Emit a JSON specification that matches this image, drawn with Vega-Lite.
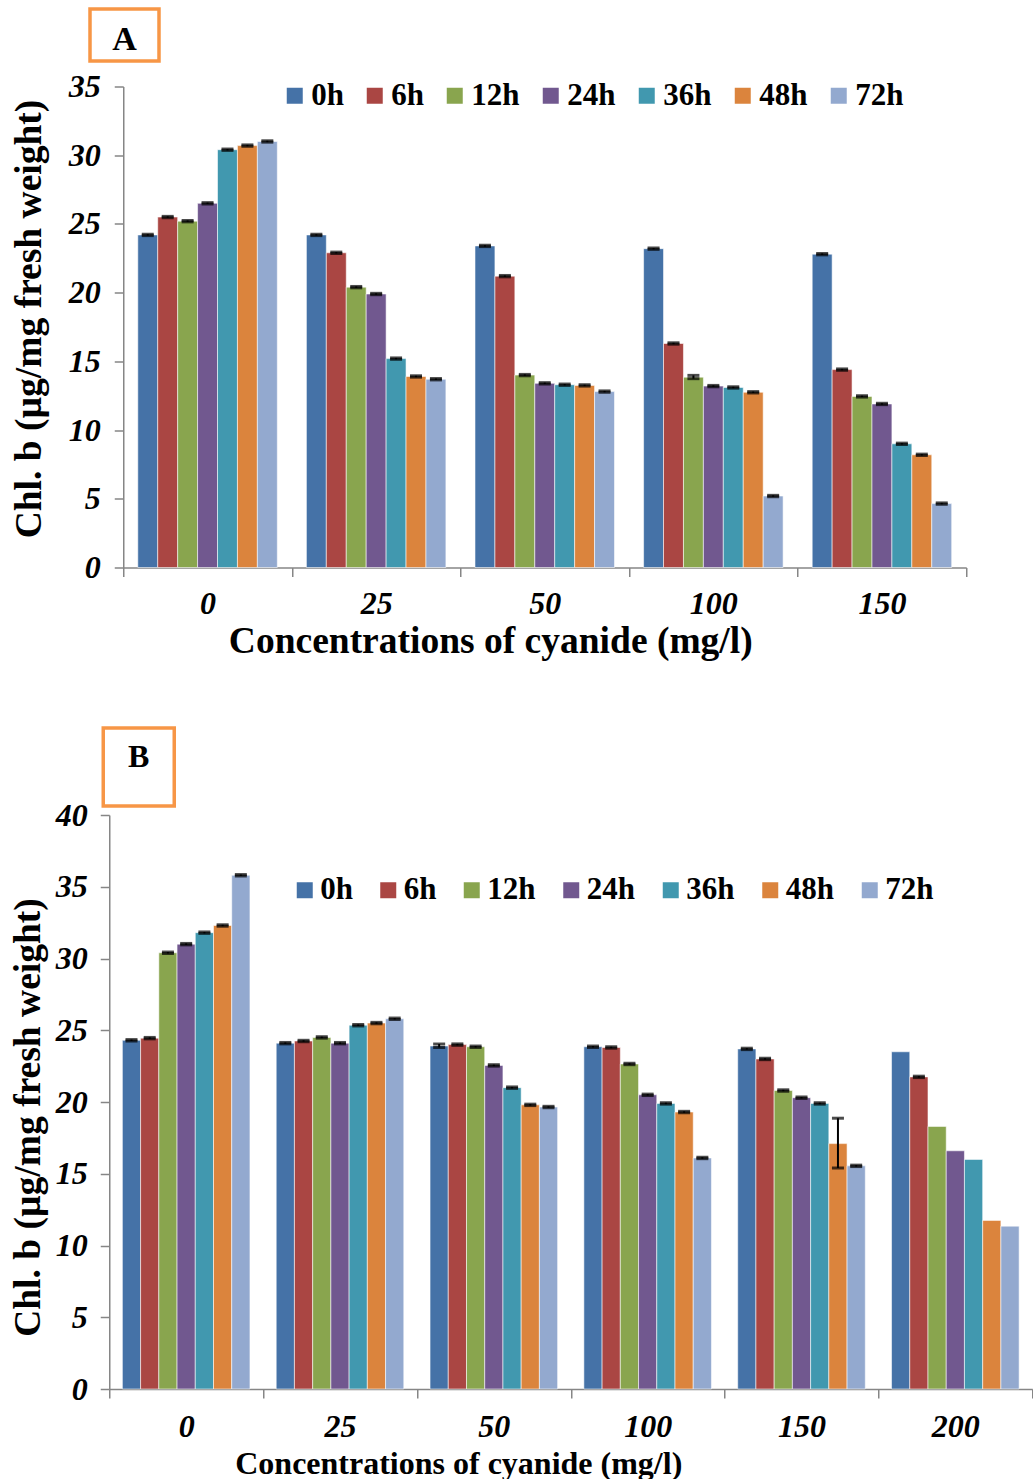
{
  "$schema": "https://vega.github.io/schema/vega-lite/v6.json",
  "background": "white",
  "padding": {"left": 9, "top": 7, "right": 0, "bottom": 0},
  "datasets": {
    "a": [
      {"conc": "0", "time": "0h", "v": 24.2, "lo": 24.15, "hi": 24.25},
      {"conc": "0", "time": "6h", "v": 25.5, "lo": 25.45, "hi": 25.55},
      {"conc": "0", "time": "12h", "v": 25.2, "lo": 25.15, "hi": 25.25},
      {"conc": "0", "time": "24h", "v": 26.5, "lo": 26.45, "hi": 26.55},
      {"conc": "0", "time": "36h", "v": 30.4, "lo": 30.35, "hi": 30.45},
      {"conc": "0", "time": "48h", "v": 30.7, "lo": 30.65, "hi": 30.75},
      {"conc": "0", "time": "72h", "v": 31.0, "lo": 30.95, "hi": 31.05},
      {"conc": "25", "time": "0h", "v": 24.2, "lo": 24.15, "hi": 24.25},
      {"conc": "25", "time": "6h", "v": 22.9, "lo": 22.85, "hi": 22.95},
      {"conc": "25", "time": "12h", "v": 20.4, "lo": 20.35, "hi": 20.45},
      {"conc": "25", "time": "24h", "v": 19.9, "lo": 19.85, "hi": 19.95},
      {"conc": "25", "time": "36h", "v": 15.2, "lo": 15.15, "hi": 15.25},
      {"conc": "25", "time": "48h", "v": 13.9, "lo": 13.85, "hi": 13.95},
      {"conc": "25", "time": "72h", "v": 13.7, "lo": 13.65, "hi": 13.75},
      {"conc": "50", "time": "0h", "v": 23.4, "lo": 23.35, "hi": 23.45},
      {"conc": "50", "time": "6h", "v": 21.2, "lo": 21.15, "hi": 21.25},
      {"conc": "50", "time": "12h", "v": 14.0, "lo": 13.95, "hi": 14.05},
      {"conc": "50", "time": "24h", "v": 13.4, "lo": 13.35, "hi": 13.45},
      {"conc": "50", "time": "36h", "v": 13.3, "lo": 13.25, "hi": 13.35},
      {"conc": "50", "time": "48h", "v": 13.25, "lo": 13.2, "hi": 13.3},
      {"conc": "50", "time": "72h", "v": 12.8, "lo": 12.75, "hi": 12.85},
      {"conc": "100", "time": "0h", "v": 23.2, "lo": 23.15, "hi": 23.25},
      {"conc": "100", "time": "6h", "v": 16.3, "lo": 16.25, "hi": 16.35},
      {"conc": "100", "time": "12h", "v": 13.85, "lo": 13.74, "hi": 13.98},
      {"conc": "100", "time": "24h", "v": 13.2, "lo": 13.15, "hi": 13.25},
      {"conc": "100", "time": "36h", "v": 13.1, "lo": 13.05, "hi": 13.15},
      {"conc": "100", "time": "48h", "v": 12.75, "lo": 12.7, "hi": 12.8},
      {"conc": "100", "time": "72h", "v": 5.2, "lo": 5.15, "hi": 5.25},
      {"conc": "150", "time": "0h", "v": 22.8, "lo": 22.75, "hi": 22.85},
      {"conc": "150", "time": "6h", "v": 14.4, "lo": 14.35, "hi": 14.45},
      {"conc": "150", "time": "12h", "v": 12.45, "lo": 12.4, "hi": 12.5},
      {"conc": "150", "time": "24h", "v": 11.9, "lo": 11.85, "hi": 11.95},
      {"conc": "150", "time": "36h", "v": 9.0, "lo": 8.95, "hi": 9.05},
      {"conc": "150", "time": "48h", "v": 8.2, "lo": 8.15, "hi": 8.25},
      {"conc": "150", "time": "72h", "v": 4.65, "lo": 4.6, "hi": 4.7}
    ],
    "b": [
      {"conc": "0", "time": "0h", "v": 24.3, "lo": 24.25, "hi": 24.35},
      {"conc": "0", "time": "6h", "v": 24.45, "lo": 24.4, "hi": 24.5},
      {"conc": "0", "time": "12h", "v": 30.4, "lo": 30.35, "hi": 30.45},
      {"conc": "0", "time": "24h", "v": 31.0, "lo": 30.95, "hi": 31.05},
      {"conc": "0", "time": "36h", "v": 31.8, "lo": 31.75, "hi": 31.85},
      {"conc": "0", "time": "48h", "v": 32.3, "lo": 32.25, "hi": 32.35},
      {"conc": "0", "time": "72h", "v": 35.8, "lo": 35.75, "hi": 35.85},
      {"conc": "25", "time": "0h", "v": 24.1, "lo": 24.05, "hi": 24.15},
      {"conc": "25", "time": "6h", "v": 24.25, "lo": 24.2, "hi": 24.3},
      {"conc": "25", "time": "12h", "v": 24.5, "lo": 24.45, "hi": 24.55},
      {"conc": "25", "time": "24h", "v": 24.1, "lo": 24.05, "hi": 24.15},
      {"conc": "25", "time": "36h", "v": 25.35, "lo": 25.3, "hi": 25.4},
      {"conc": "25", "time": "48h", "v": 25.5, "lo": 25.45, "hi": 25.55},
      {"conc": "25", "time": "72h", "v": 25.8, "lo": 25.75, "hi": 25.85},
      {"conc": "50", "time": "0h", "v": 23.9, "lo": 23.8, "hi": 24.04},
      {"conc": "50", "time": "6h", "v": 24.0, "lo": 23.95, "hi": 24.05},
      {"conc": "50", "time": "12h", "v": 23.85, "lo": 23.8, "hi": 23.9},
      {"conc": "50", "time": "24h", "v": 22.55, "lo": 22.5, "hi": 22.6},
      {"conc": "50", "time": "36h", "v": 21.0, "lo": 20.95, "hi": 21.05},
      {"conc": "50", "time": "48h", "v": 19.8, "lo": 19.75, "hi": 19.85},
      {"conc": "50", "time": "72h", "v": 19.65, "lo": 19.6, "hi": 19.7},
      {"conc": "100", "time": "0h", "v": 23.85, "lo": 23.8, "hi": 23.9},
      {"conc": "100", "time": "6h", "v": 23.8, "lo": 23.75, "hi": 23.85},
      {"conc": "100", "time": "12h", "v": 22.65, "lo": 22.6, "hi": 22.7},
      {"conc": "100", "time": "24h", "v": 20.5, "lo": 20.45, "hi": 20.55},
      {"conc": "100", "time": "36h", "v": 19.9, "lo": 19.85, "hi": 19.95},
      {"conc": "100", "time": "48h", "v": 19.3, "lo": 19.25, "hi": 19.35},
      {"conc": "100", "time": "72h", "v": 16.1, "lo": 16.05, "hi": 16.15},
      {"conc": "150", "time": "0h", "v": 23.7, "lo": 23.65, "hi": 23.75},
      {"conc": "150", "time": "6h", "v": 23.0, "lo": 22.95, "hi": 23.05},
      {"conc": "150", "time": "12h", "v": 20.8, "lo": 20.75, "hi": 20.85},
      {"conc": "150", "time": "24h", "v": 20.3, "lo": 20.25, "hi": 20.35},
      {"conc": "150", "time": "36h", "v": 19.9, "lo": 19.85, "hi": 19.95},
      {"conc": "150", "time": "48h", "v": 17.1, "lo": 15.4, "hi": 18.87},
      {"conc": "150", "time": "72h", "v": 15.55, "lo": 15.5, "hi": 15.6},
      {"conc": "200", "time": "0h", "v": 23.5, "lo": null, "hi": null},
      {"conc": "200", "time": "6h", "v": 21.75, "lo": 21.7, "hi": 21.8},
      {"conc": "200", "time": "12h", "v": 18.3, "lo": null, "hi": null},
      {"conc": "200", "time": "24h", "v": 16.6, "lo": null, "hi": null},
      {"conc": "200", "time": "36h", "v": 16.0, "lo": null, "hi": null},
      {"conc": "200", "time": "48h", "v": 11.75, "lo": null, "hi": null},
      {"conc": "200", "time": "72h", "v": 11.35, "lo": null, "hi": null}
    ]
  },
  "resolve": {"scale": {"color": "independent", "xOffset": "independent"}, "legend": {"color": "independent"}},
  "spacing": 66,
  "vconcat": [
    {
      "spacing": 7.5,
      "resolve": {"scale": {"color": "independent", "xOffset": "independent"}, "legend": {"color": "independent"}},
      "vconcat": [
        {"width": 69, "height": 52, "view": {"stroke": "#F79646", "strokeWidth": 3.5, "fill": "white"}, "data": {"values": [{"letter": "A"}]}, "mark": {"type": "text", "font": "Liberation Serif", "fontWeight": "bold", "fontSize": 34, "dy": 5, "color": "black"}, "encoding": {"text": {"field": "letter"}}},
        {
          "spacing": -81.75,
          "resolve": {"scale": {"color": "independent", "xOffset": "independent"}, "legend": {"color": "independent"}},
          "hconcat": [
            {"width": 1, "height": 52, "view": {"stroke": null}, "data": {"values": [{"t": ""}]}, "mark": {"type": "text"}, "encoding": {"text": {"field": "t"}}},
            {
              "width": 843,
              "height": 481,
              "data": {"name": "a"},
              "encoding": {
                "x": {"field": "conc", "type": "ordinal", "sort": ["0", "25", "50", "100", "150"],
                  "scale": {"paddingInner": 0, "paddingOuter": 0},
                  "axis": {"title": "Concentrations of cyanide (mg/l)", "labelAngle": 0, "tickBand": "extent", "tickSize": 9, "labelPadding": 12, "titlePadding": 3, "titleX": 367,
                    "labelFontSize": 32, "labelFontStyle": "italic", "labelFontWeight": "bold", "titleFontSize": 37.5}},
                "xOffset": {"field": "time", "type": "nominal", "sort": ["0h", "6h", "12h", "24h", "36h", "48h", "72h"], "scale": {"paddingInner": 0, "paddingOuter": 0.73}}
              },
              "layer": [
                {
                  "mark": {"type": "bar", "stroke": "#ffffff", "strokeWidth": 0.8, "strokeOpacity": 0.7},
                  "encoding": {
                    "y": {"field": "v", "type": "quantitative", "scale": {"domain": [0, 35]},
                      "axis": {"values": [0, 5, 10, 15, 20, 25, 30, 35], "tickSize": 9, "labelPadding": 14, "labelFontSize": 32, "labelFontStyle": "italic", "labelFontWeight": "bold",
                        "title": "Chl. b (µg/mg fresh weight)", "titleFontSize": 37.5, "titleX": -75, "titleY": 232}},
                    "color": {"field": "time", "type": "nominal", "sort": ["0h", "6h", "12h", "24h", "36h", "48h", "72h"],
                      "scale": {"domain": ["0h", "6h", "12h", "24h", "36h", "48h", "72h"], "range": ["#4572A7", "#AA4643", "#89A54E", "#71588F", "#4198AF", "#DB843D", "#93A9CF"]},
                      "legend": {"orient": "none", "legendX": 156, "legendY": -6.5, "direction": "horizontal", "title": null, "symbolType": "square", "symbolSize": 256, "symbolStrokeWidth": 0,
                        "labelFontSize": 31, "labelFontWeight": "bold", "labelOffset": 1, "columnPadding": 15, "padding": 0}}
                  }
                },
                {
                  "mark": {"type": "rule", "color": "black", "strokeWidth": 2},
                  "encoding": {"y": {"field": "lo", "type": "quantitative"}, "y2": {"field": "hi"}}
                },
                {
                  "mark": {"type": "tick", "color": "black", "thickness": 3, "size": 12},
                  "encoding": {"y": {"field": "hi", "type": "quantitative"}}
                },
                {
                  "mark": {"type": "tick", "color": "black", "thickness": 3, "size": 12},
                  "encoding": {"y": {"field": "lo", "type": "quantitative"}}
                }
              ]
            }
          ]
        }
      ]
    },
    {
      "spacing": -9,
      "resolve": {"scale": {"color": "independent", "xOffset": "independent"}, "legend": {"color": "independent"}},
      "vconcat": [
        {
          "spacing": 10.25,
          "hconcat": [
            {"width": 1, "height": 78, "view": {"stroke": null}, "data": {"values": [{"t": ""}]}, "mark": {"type": "text"}, "encoding": {"text": {"field": "t"}}},
            {"width": 71, "height": 78, "view": {"stroke": "#F79646", "strokeWidth": 3.5, "fill": "white"}, "data": {"values": [{"letter": "B"}]}, "mark": {"type": "text", "font": "Liberation Serif", "fontWeight": "bold", "fontSize": 32, "dy": -10, "color": "black"}, "encoding": {"text": {"field": "letter"}}}
          ]
        },
        {
          "spacing": -81.75,
          "resolve": {"scale": {"color": "independent", "xOffset": "independent"}, "legend": {"color": "independent"}},
          "hconcat": [
            {"width": 1, "height": 52, "view": {"stroke": null}, "data": {"values": [{"t": ""}]}, "mark": {"type": "text"}, "encoding": {"text": {"field": "t"}}},
            {
              "width": 923,
              "height": 574,
              "data": {"name": "b"},
              "encoding": {
                "x": {"field": "conc", "type": "ordinal", "sort": ["0", "25", "50", "100", "150", "200"],
                  "scale": {"paddingInner": 0, "paddingOuter": 0},
                  "axis": {"title": "Concentrations of cyanide (mg/l)", "labelAngle": 0, "tickBand": "extent", "tickSize": 9, "labelPadding": 13, "titlePadding": 6, "titleX": 349,
                    "labelFontSize": 32, "labelFontStyle": "italic", "labelFontWeight": "bold", "titleFontSize": 32}},
                "xOffset": {"field": "time", "type": "nominal", "sort": ["0h", "6h", "12h", "24h", "36h", "48h", "72h"], "scale": {"paddingInner": 0, "paddingOuter": 0.72}}
              },
              "layer": [
                {
                  "mark": {"type": "bar", "stroke": "#ffffff", "strokeWidth": 0.8, "strokeOpacity": 0.7},
                  "encoding": {
                    "y": {"field": "v", "type": "quantitative", "scale": {"domain": [0, 40]},
                      "axis": {"values": [0, 5, 10, 15, 20, 25, 30, 35, 40], "tickSize": 9, "labelPadding": 13, "labelFontSize": 32, "labelFontStyle": "italic", "labelFontWeight": "bold",
                        "title": "Chl. b (µg/mg fresh weight)", "titleFontSize": 37.5, "titleX": -62, "titleY": 302}},
                    "color": {"field": "time", "type": "nominal", "sort": ["0h", "6h", "12h", "24h", "36h", "48h", "72h"],
                      "scale": {"domain": ["0h", "6h", "12h", "24h", "36h", "48h", "72h"], "range": ["#4572A7", "#AA4643", "#89A54E", "#71588F", "#4198AF", "#DB843D", "#93A9CF"]},
                      "legend": {"orient": "none", "legendX": 180, "legendY": 59.5, "direction": "horizontal", "title": null, "symbolType": "square", "symbolSize": 256, "symbolStrokeWidth": 0,
                        "labelFontSize": 31, "labelFontWeight": "bold", "labelOffset": 0, "columnPadding": 19.5, "padding": 0}}
                  }
                },
                {
                  "mark": {"type": "rule", "color": "black", "strokeWidth": 2},
                  "encoding": {"y": {"field": "lo", "type": "quantitative"}, "y2": {"field": "hi"}}
                },
                {
                  "mark": {"type": "tick", "color": "black", "thickness": 3, "size": 12},
                  "encoding": {"y": {"field": "hi", "type": "quantitative"}}
                },
                {
                  "mark": {"type": "tick", "color": "black", "thickness": 3, "size": 12},
                  "encoding": {"y": {"field": "lo", "type": "quantitative"}}
                }
              ]
            }
          ]
        }
      ]
    }
  ],
  "config": {
    "font": "Liberation Serif",
    "view": {"stroke": null},
    "axis": {
      "grid": false,
      "domainColor": "#868686",
      "domainWidth": 1.5,
      "tickColor": "#868686",
      "tickWidth": 1.5,
      "labelColor": "black",
      "titleColor": "black",
      "labelFont": "Liberation Serif",
      "titleFont": "Liberation Serif",
      "titleFontWeight": "bold"
    },
    "legend": {"labelColor": "black", "labelFont": "Liberation Serif"}
  }
}
